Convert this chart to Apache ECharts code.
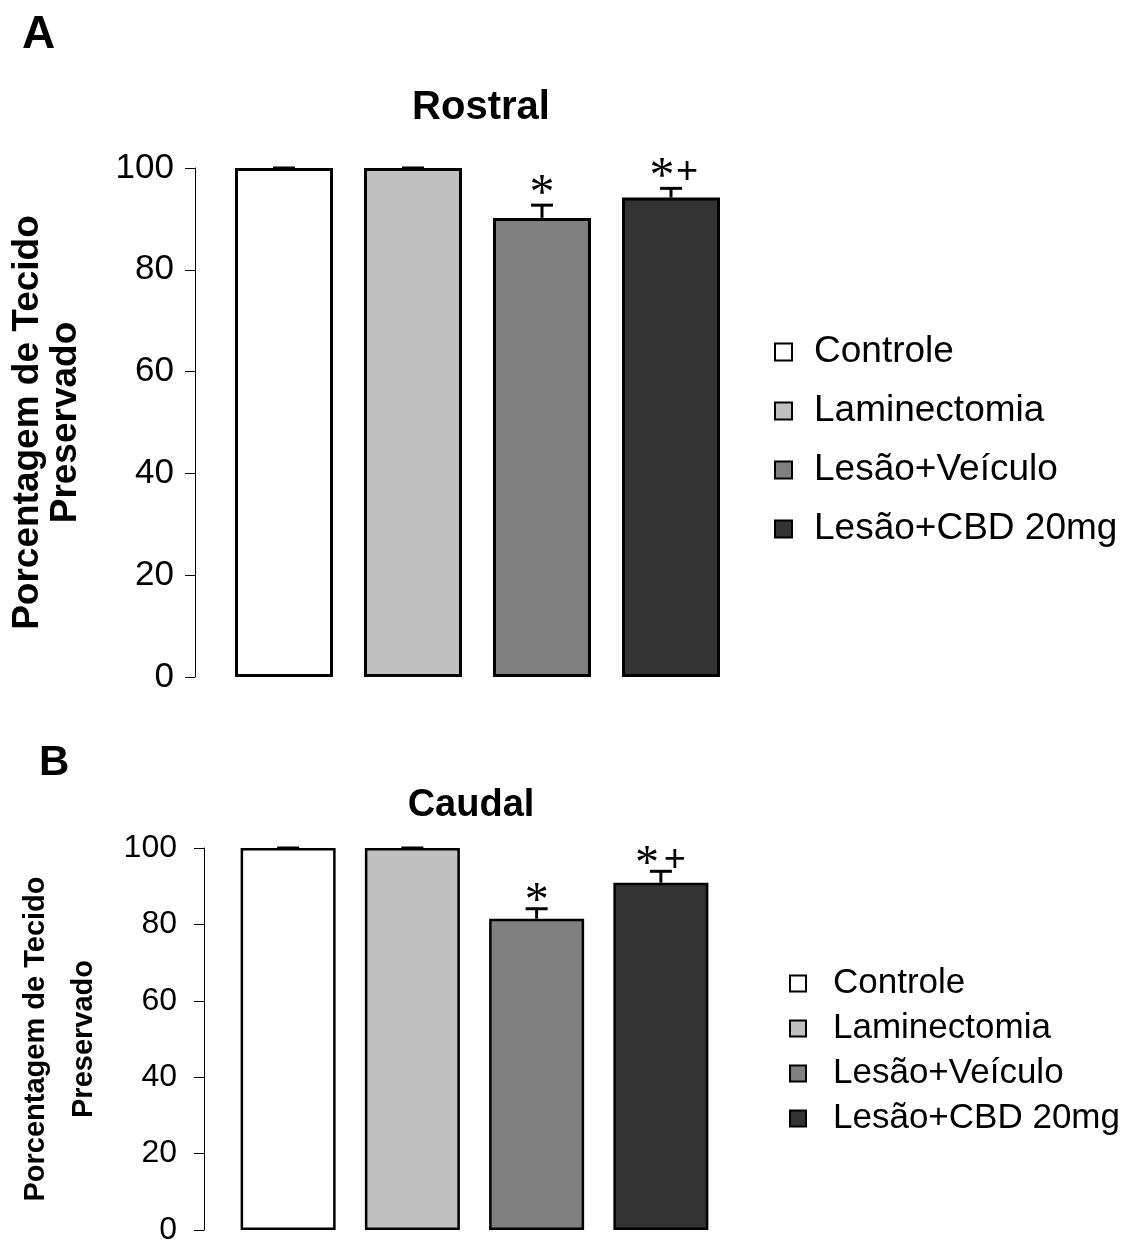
<!DOCTYPE html>
<html>
<head>
<meta charset="utf-8">
<script src="https://cdn.jsdelivr.net/npm/echarts@6/dist/echarts.min.js"></script>
<style>
html,body{margin:0;padding:0;background:#fff;}
#chart{width:1148px;height:1246px;}
</style>
</head>
<body>
<div id="chart"></div>
<script>
// ---- data ----
const categories = ['Controle', 'Laminectomia', 'Lesão+Veículo', 'Lesão+CBD 20mg'];
const rostralValues = [100, 100, 90.2, 94.2];
const rostralErrors = [0, 0, 2.5, 1.8];
const rostralMarks = ['', '', '*', '*+'];
const caudalValues = [100, 100, 81.5, 90.9];
const caudalErrors = [0, 0, 2.6, 3.0];
const caudalMarks = ['', '', '*', '*+'];
const yMin = 0, yMax = 100, yStep = 20;
const titles = ['Rostral', 'Caudal'];
const panelLetters = ['A', 'B'];
const yName = 'Porcentagem de Tecido\nPreservado';

// ---- styles ----
const colors = ['#ffffff', '#c0c0c0', '#808080', '#333333'];
const SANS = '"Liberation Sans", Arial, sans-serif';
const SERIF = '"Liberation Serif", "Times New Roman", serif';

const chart = echarts.init(document.getElementById('chart'), null, {renderer: 'canvas'});

function barSeries(values, gridIdx, barW, bw) {
  return categories.map((name, i) => ({
    type: 'bar', name: name, xAxisIndex: gridIdx, yAxisIndex: gridIdx,
    stack: 'g' + gridIdx, barWidth: barW,
    itemStyle: {color: colors[i], borderColor: '#000', borderWidth: bw},
    emphasis: {disabled: true},
    data: values.map((v, j) => j === i ? v : '-')
  }));
}

function errSeries(values, errors, marks, gridIdx, cfg) {
  return {
    type: 'custom', xAxisIndex: gridIdx, yAxisIndex: gridIdx, silent: true, z: 5,
    data: values.map((v, i) => [i, v, errors[i]]),
    renderItem: function (params, api) {
      const i = api.value(0), v = api.value(1), e = api.value(2);
      const top = api.coord([i, v + e]);
      const base = api.coord([i, v]);
      const ch = [
        {type: 'line', shape: {x1: base[0], y1: base[1], x2: top[0], y2: top[1]}, style: {stroke: '#000', lineWidth: 3}},
        {type: 'line', shape: {x1: top[0] - cfg.cap / 2, y1: top[1], x2: top[0] + cfg.cap / 2, y2: top[1]}, style: {stroke: '#000', lineWidth: 3}}
      ];
      const m = marks[params.dataIndex];
      if (m) {
        const chars = m.split('');
        chars.forEach((c) => {
          const multi = chars.length > 1;
          if (c === '*') {
            ch.push({type: 'text', x: top[0] + (multi ? cfg.starDx : 0), y: top[1] - cfg.starDy,
              style: {text: '*', font: cfg.starFont + 'px ' + SERIF, fill: '#000', align: 'center', verticalAlign: 'middle'}});
          } else {
            ch.push({type: 'text', x: top[0] + cfg.plusDx, y: top[1] - cfg.plusDy,
              style: {text: c, font: cfg.plusFont + 'px ' + SANS, fill: '#000', align: 'center', verticalAlign: 'middle'}});
          }
        });
      }
      return {type: 'group', children: ch};
    }
  };
}

function yAxis(gridIdx, off, fs, margin, nameFs, nameLH, nameGap) {
  return {
    type: 'value', gridIndex: gridIdx, min: yMin, max: yMax, interval: yStep, offset: off,
    axisLine: {show: true, lineStyle: {color: '#000', width: 1}},
    axisTick: {show: true, length: 10, lineStyle: {color: '#000', width: 1}},
    axisLabel: {color: '#000', fontSize: fs, fontFamily: SANS, margin: margin},
    splitLine: {show: false},
    name: yName, nameLocation: 'middle', nameRotate: 90, nameGap: nameGap,
    nameTextStyle: {color: '#000', fontSize: nameFs, fontWeight: 'bold', fontFamily: SANS, lineHeight: nameLH, align: 'center'}
  };
}

function xAxis(gridIdx) {
  return {
    type: 'category', gridIndex: gridIdx, data: categories,
    axisLine: {show: false}, axisTick: {show: false}, axisLabel: {show: false}
  };
}

const option = {
  backgroundColor: '#ffffff',
  animation: false,
  grid: [
    {left: 219.5, top: 168, width: 516, height: 509},
    {left: 226, top: 848, width: 497, height: 386}
  ],
  xAxis: [xAxis(0), xAxis(1)],
  yAxis: [yAxis(0, 24.5, 35, 21, 37, 38, 110), yAxis(1, 22, 32, 27, 29, 48, 96)],
  legend: [
    {orient: 'vertical', left: 769, top: 328.5, itemWidth: 17, itemHeight: 17, itemGap: 22, icon: 'rect',
      selectedMode: false, data: categories,
      itemStyle: {borderColor: '#000', borderWidth: 2},
      textStyle: {color: '#000', fontSize: 37, fontFamily: SANS, padding: [0, 0, 0, 17]}},
    {orient: 'vertical', left: 784, top: 961, itemWidth: 16, itemHeight: 16, itemGap: 10, icon: 'rect',
      selectedMode: false, data: categories,
      itemStyle: {borderColor: '#000', borderWidth: 2},
      textStyle: {color: '#000', fontSize: 35, fontFamily: SANS, padding: [0, 0, 0, 22]}}
  ],
  graphic: [
    {type: 'text', left: 22, top: 12, style: {text: panelLetters[0], font: 'bold 46px ' + SANS, fill: '#000'}},
    {type: 'text', left: 39, top: 742, style: {text: panelLetters[1], font: 'bold 42px ' + SANS, fill: '#000'}},
    {type: 'text', x: 481, y: 108, style: {text: titles[0], font: 'bold 40px ' + SANS, fill: '#000', align: 'center', verticalAlign: 'middle'}},
    {type: 'text', x: 471, y: 806, style: {text: titles[1], font: 'bold 38px ' + SANS, fill: '#000', align: 'center', verticalAlign: 'middle'}}
  ],
  series: [
    ...barSeries(rostralValues, 0, 98, 3),
    ...barSeries(caudalValues, 1, 95, 2.5),
    errSeries(rostralValues, rostralErrors, rostralMarks, 0, {cap: 22, starFont: 50, starDx: -9, starDy: 10, plusFont: 38, plusDx: 16, plusDy: 16}),
    errSeries(caudalValues, caudalErrors, caudalMarks, 1, {cap: 22, starFont: 48, starDx: -14, starDy: 6, plusFont: 38, plusDx: 14, plusDy: 11})
  ]
};
chart.setOption(option);
</script>
</body>
</html>
